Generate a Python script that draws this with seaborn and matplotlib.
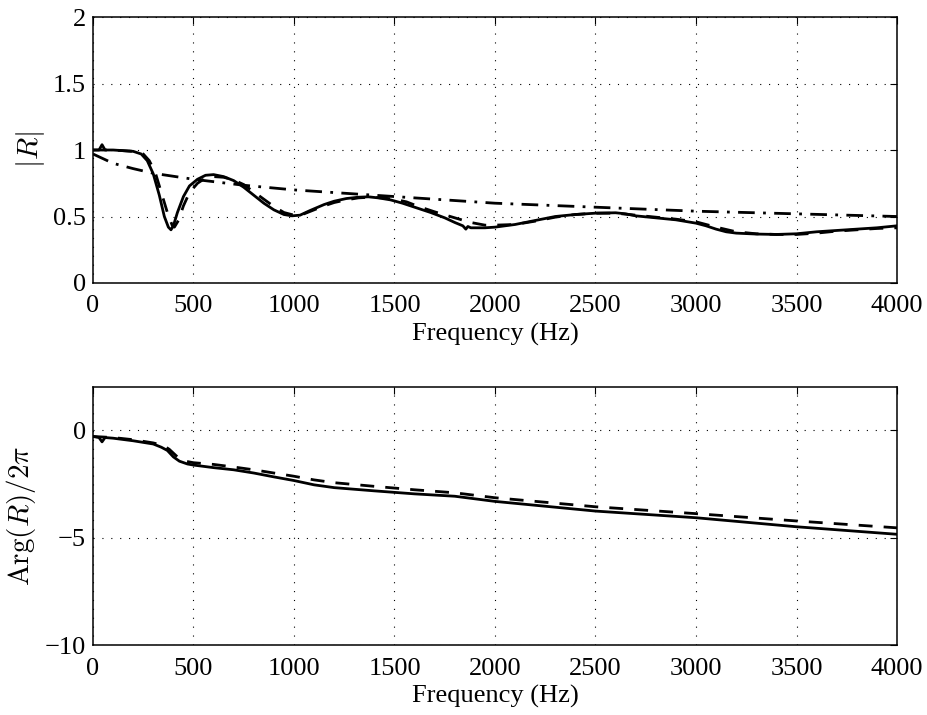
import numpy as np
import pandas as pd
import matplotlib
matplotlib.use("Agg")
import matplotlib.pyplot as plt
import seaborn as sns

# ---------------- data ----------------
mag_solid_f = [0, 30, 45, 60, 100, 150, 200, 240, 270, 300, 330, 355, 375, 388, 400, 420, 450, 480,
               520, 560, 600, 650, 700, 750, 800, 850, 900, 950, 990, 1030, 1080, 1150, 1200, 1260,
               1320, 1370, 1420, 1480, 1540, 1600, 1680, 1750, 1800, 1840, 1855, 1865, 1880, 1950,
               2000, 2100, 2200, 2300, 2400, 2500, 2600, 2650, 2700, 2800, 2900, 3000, 3050, 3100,
               3150, 3200, 3300, 3400, 3500, 3600, 3700, 3800, 3900, 4000]
mag_solid = [1.00, 1.00, 1.04, 1.00, 1.00, 0.995, 0.99, 0.97, 0.92, 0.82, 0.66, 0.50, 0.42, 0.40, 0.43,
             0.53, 0.65, 0.73, 0.78, 0.81, 0.815, 0.80, 0.77, 0.72, 0.66, 0.60, 0.55, 0.515, 0.505,
             0.51, 0.545, 0.59, 0.615, 0.635, 0.645, 0.648, 0.64, 0.625, 0.60, 0.57, 0.53, 0.49,
             0.455, 0.43, 0.405, 0.425, 0.415, 0.415, 0.42, 0.44, 0.47, 0.50, 0.515, 0.525, 0.528,
             0.52, 0.505, 0.49, 0.475, 0.45, 0.43, 0.405, 0.385, 0.375, 0.368, 0.365, 0.37, 0.385,
             0.395, 0.405, 0.415, 0.43]

mag_dash_f = [0, 100, 200, 250, 280, 310, 340, 370, 395, 405, 425, 450, 480, 520, 560, 600, 650, 700,
              750, 800, 850, 900, 950, 1000, 1050, 1100, 1150, 1200, 1260, 1320, 1380, 1440, 1500,
              1560, 1620, 1700, 1800, 1880, 1950, 2000, 2100, 2200, 2300, 2400, 2500, 2600, 2700,
              2800, 2900, 3000, 3100, 3200, 3300, 3400, 3500, 3600, 3700, 3800, 3900, 4000]
mag_dash = [1.00, 1.00, 0.99, 0.97, 0.92, 0.83, 0.68, 0.53, 0.43, 0.42, 0.47, 0.58, 0.68, 0.75, 0.79,
            0.80, 0.795, 0.775, 0.74, 0.685, 0.63, 0.575, 0.53, 0.51, 0.52, 0.55, 0.58, 0.605, 0.625,
            0.64, 0.645, 0.64, 0.63, 0.61, 0.575, 0.535, 0.49, 0.455, 0.435, 0.435, 0.44, 0.465,
            0.495, 0.515, 0.525, 0.525, 0.51, 0.495, 0.48, 0.46, 0.42, 0.385, 0.37, 0.365, 0.365,
            0.375, 0.39, 0.40, 0.41, 0.415]

mag_dd_f = [0, 100, 200, 300, 500, 750, 1000, 1500, 2000, 2500, 3000, 3500, 4000]
mag_dd = [0.97, 0.90, 0.86, 0.825, 0.78, 0.735, 0.70, 0.65, 0.60, 0.57, 0.54, 0.52, 0.50]

ph_solid_f = [0, 30, 45, 60, 100, 200, 300, 340, 370, 400, 430, 470, 500, 600, 700, 800, 900, 1000,
              1100, 1200, 1400, 1600, 1800, 2000, 2200, 2500, 3000, 3500, 4000]
ph_solid = [-0.30, -0.35, -0.55, -0.35, -0.38, -0.50, -0.65, -0.80, -0.95, -1.25, -1.45, -1.58, -1.63,
            -1.75, -1.85, -2.00, -2.18, -2.35, -2.55, -2.68, -2.83, -2.97, -3.08, -3.32, -3.50,
            -3.77, -4.08, -4.50, -4.85]

ph_dash_f = [0, 100, 200, 300, 350, 380, 420, 460, 500, 600, 700, 800, 900, 1000, 1100, 1200, 1400,
             1600, 1800, 2000, 2500, 3000, 3500, 4000]
ph_dash = [-0.30, -0.35, -0.45, -0.60, -0.72, -0.90, -1.25, -1.45, -1.52, -1.60, -1.72, -1.85, -2.00,
           -2.15, -2.32, -2.45, -2.62, -2.78, -2.92, -3.15, -3.57, -3.89, -4.23, -4.55]

xticks = [0, 500, 1000, 1500, 2000, 2500, 3000, 3500, 4000]
yticks_top = [0, 0.5, 1, 1.5, 2]
yticklabels_top = ["0", "0.5", "1", "1.5", "2"]
yticks_bot = [-10, -5, 0]
yticklabels_bot = ["\u221210", "\u22125", "0"]

# ---------------- styling ----------------
sns.set_theme(style="white")
plt.rcParams["font.family"] = ["Liberation Serif", "DejaVu Serif"]
plt.rcParams["mathtext.fontset"] = "cm"
plt.rcParams["axes.unicode_minus"] = True
for k in ["text.color", "axes.labelcolor", "xtick.color", "ytick.color", "axes.edgecolor"]:
    plt.rcParams[k] = "black"

FS = 19
YFS = 21

fig = plt.figure(figsize=(9.28, 7.15), dpi=100)
ax1 = fig.add_axes([0.1002, 0.6042, 0.8664, 0.3720])
ax2 = fig.add_axes([0.1002, 0.0979, 0.8664, 0.3608])

lw = 2.0
dash = (5, 4)
dashdot = (6, 3, 1, 3)

sns.lineplot(x=mag_dd_f, y=mag_dd, ax=ax1, color="black", lw=lw, sort=False, estimator=None)
ax1.lines[-1].set_dashes(dashdot)
sns.lineplot(x=mag_dash_f, y=mag_dash, ax=ax1, color="black", lw=lw, sort=False, estimator=None)
ax1.lines[-1].set_dashes(dash)
sns.lineplot(x=mag_solid_f, y=mag_solid, ax=ax1, color="black", lw=lw, sort=False, estimator=None)

sns.lineplot(x=ph_dash_f, y=ph_dash, ax=ax2, color="black", lw=lw, sort=False, estimator=None)
ax2.lines[-1].set_dashes(dash)
sns.lineplot(x=ph_solid_f, y=ph_solid, ax=ax2, color="black", lw=lw, sort=False, estimator=None)

for ax in (ax1, ax2):
    ax.set_xlim(0, 4000)
    ax.set_xticks(xticks)
    ax.set_xticklabels([str(t) for t in xticks])
    ax.grid(True, color="black", linestyle=(0, (1, 7)), linewidth=0.8)
    ax.tick_params(direction="in", length=5, width=0.8, top=True, right=True,
                   labelsize=FS, colors="black")
    ax.tick_params(axis="x", pad=9)
    ax.tick_params(axis="y", pad=5)
    for s in ax.spines.values():
        s.set_visible(True)
        s.set_color("black")
        s.set_linewidth(1.1)
    ax.set_xlabel("Frequency (Hz)", fontsize=FS, labelpad=4, color="black")

ax1.set_ylim(0, 2)
ax1.set_yticks(yticks_top)
ax1.set_yticklabels(yticklabels_top)
ax1.set_ylabel(r"$|R|$", fontsize=YFS, labelpad=4, color="black")

ax2.set_ylim(-10, 2)
ax2.set_yticks(yticks_bot)
ax2.set_yticklabels(yticklabels_bot)
ax2.set_ylabel(r"$\mathrm{Arg}(R)/2\pi$", fontsize=YFS, labelpad=5, color="black")

fig.savefig("out.png", dpi=100, facecolor="white")
